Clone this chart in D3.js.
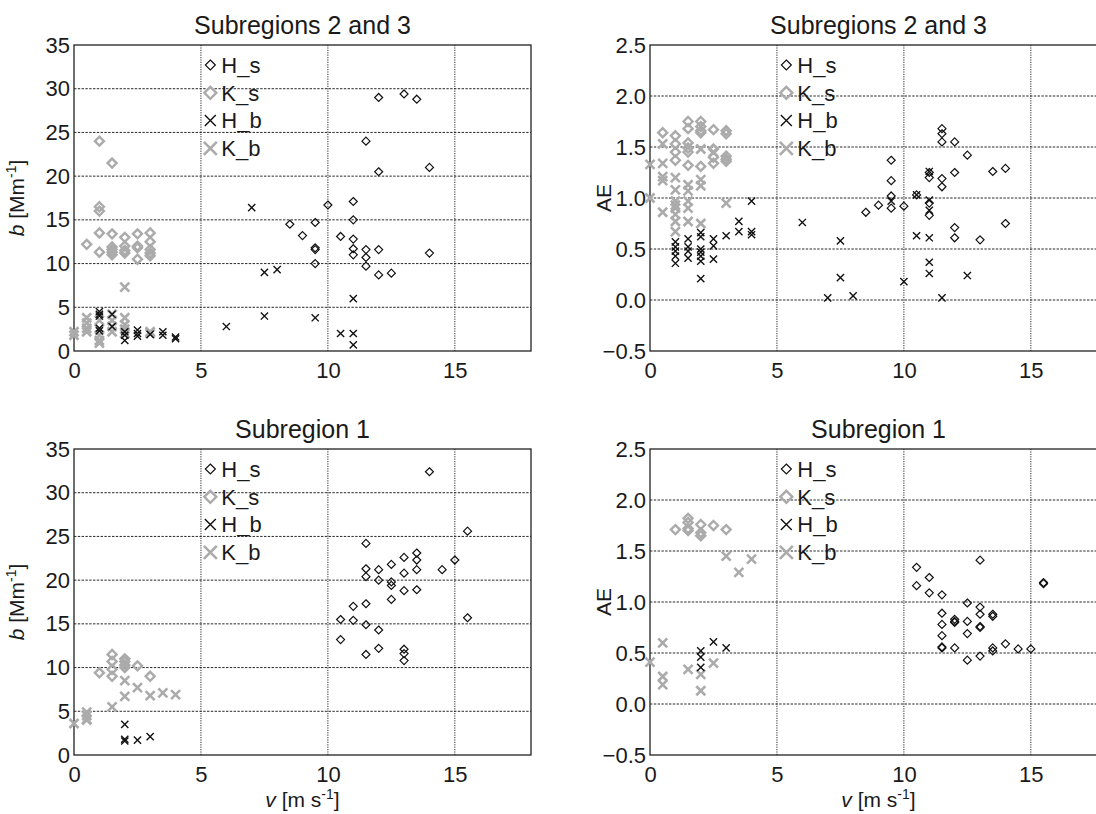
<!DOCTYPE html>
<html>
<head>
<meta charset="utf-8">
<script src="https://cdn.jsdelivr.net/npm/d3@7"></script>
<style>
  body { margin: 0; background: #fff; }
  svg { display: block; font-family: "Liberation Sans", Arial, sans-serif; }
</style>
</head>
<body>
<div id="chart"></div>
<script>
// x values are wind speed v [m s-1]; y values are b [Mm-1] or AE
const xTicks = [0, 5, 10, 15];
const bTicks = [0, 5, 10, 15, 20, 25, 30, 35];
const aeTicks = [-0.5, 0, 0.5, 1, 1.5, 2, 2.5];
const seriesNames = ["H_s", "K_s", "H_b", "K_b"];

// Subregions 2 and 3, scattering coefficient
const sub23bHs = [[8.5,14.5],[9,13.2],[9.5,14.7],[9.5,11.8],[9.5,11.6],[9.5,10.0],[10,16.7],[10.5,13.1],[11,17.1],[11,15.0],[11,12.8],[11,11.7],[11,11.0],[11.5,24.0],[11.5,11.6],[11.5,10.7],[11.5,9.7],[12,29.0],[12,20.5],[12,11.6],[12,8.7],[12.5,8.9],[13,29.4],[13.5,28.8],[14,21.0],[14,11.2]];
const sub23bKs = [[0.5,12.2],[1,24.0],[1,16.5],[1,16.0],[1,13.5],[1,11.3],[1.5,21.5],[1.5,13.4],[1.5,11.9],[1.5,11.6],[1.5,11.3],[1.5,11.0],[2,13.0],[2,12.0],[2,11.5],[2,11.2],[2.5,13.4],[2.5,12.0],[2.5,11.8],[2.5,10.5],[3,13.5],[3,12.5],[3,11.6],[3,11.2],[3,10.9]];
const sub23bHb = [[1,4.5],[1,4.2],[1,4.0],[1,2.6],[1,2.3],[1.5,4.2],[1.5,2.8],[2,2.2],[2,1.8],[2,1.2],[2.5,2.4],[2.5,2.0],[2.5,1.7],[3,1.9],[3.5,2.2],[3.5,1.8],[4,1.6],[4,1.4],[6,2.8],[7,16.4],[7.5,9.0],[7.5,4.0],[8,9.3],[9.5,3.8],[10.5,2.0],[11,6.0],[11,2.0],[11,0.7]];
const sub23bKb = [[0,2.2],[0,1.8],[0.5,3.8],[0.5,3.2],[0.5,2.6],[0.5,2.2],[1,3.5],[1,2.5],[1,1.8],[1,1.2],[1,0.9],[1.5,4.2],[1.5,3.5],[1.5,2.8],[1.5,2.2],[2,7.3],[2,3.8],[2,3.0],[2,2.5],[2,2.0],[3,2.2],[3,2.0]];

// Subregions 2 and 3, Angstrom exponent
const sub23aeHs = [[8.5,0.86],[9,0.93],[9.5,1.37],[9.5,1.17],[9.5,1.02],[9.5,0.90],[10,0.92],[10.5,1.03],[11,1.25],[11,1.20],[11,0.95],[11,0.83],[11.5,1.68],[11.5,1.63],[11.5,1.55],[11.5,1.19],[11.5,1.11],[12,1.55],[12,1.25],[12,0.71],[12,0.61],[12.5,1.42],[13,0.59],[13.5,1.26],[14,1.29],[14,0.75]];
const sub23aeKs = [[0.5,1.64],[1,1.61],[1,1.53],[1,1.45],[1,1.37],[1.5,1.75],[1.5,1.68],[1.5,1.54],[1.5,1.49],[1.5,1.45],[1.5,1.32],[2,1.75],[2,1.70],[2,1.66],[2,1.64],[2,1.31],[2.5,1.67],[2.5,1.48],[2.5,1.40],[2.5,1.34],[3,1.66],[3,1.63],[3,1.41],[3,1.38],[3,1.36]];
const sub23aeHb = [[1,0.57],[1,0.52],[1,0.48],[1,0.43],[1,0.36],[1.5,0.60],[1.5,0.52],[1.5,0.48],[1.5,0.41],[2,0.66],[2,0.62],[2,0.50],[2,0.47],[2,0.43],[2,0.38],[2,0.21],[2.5,0.60],[2.5,0.53],[2.5,0.40],[3,0.63],[3.5,0.77],[3.5,0.67],[4,0.97],[4,0.67],[4,0.64],[6,0.76],[7,0.02],[7.5,0.58],[7.5,0.22],[8,0.04],[9.5,0.97],[10,0.18],[10.5,1.03],[10.5,0.63],[11,1.26],[11,0.98],[11,0.88],[11,0.61],[11,0.37],[11,0.26],[11.5,0.02],[12.5,0.24]];
const sub23aeKb = [[0,1.33],[0,1.0],[0.5,1.53],[0.5,1.34],[0.5,1.21],[0.5,1.17],[0.5,0.86],[1,1.20],[1,1.08],[1,0.97],[1,0.93],[1,0.90],[1,0.84],[1,0.77],[1,0.67],[1.5,1.13],[1.5,1.07],[1.5,0.97],[1.5,0.90],[1.5,0.77],[2,1.48],[2,1.18],[2,1.12],[2,0.75],[2.5,1.45],[3,0.95]];

// Subregion 1, scattering coefficient
const sub1bHs = [[10.5,15.5],[10.5,13.2],[11,17.0],[11,15.4],[11.5,24.2],[11.5,21.3],[11.5,20.4],[11.5,17.3],[11.5,14.9],[11.5,11.5],[12,21.2],[12,20.0],[12,14.3],[12,12.2],[12.5,21.8],[12.5,19.8],[12.5,19.4],[12.5,17.8],[13,22.6],[13,20.8],[13,18.8],[13,12.1],[13,11.6],[13,10.8],[13.5,23.1],[13.5,22.3],[13.5,21.2],[13.5,18.9],[14,32.4],[14.5,21.2],[15,22.3],[15.5,25.6],[15.5,15.7]];
const sub1bKs = [[1,9.4],[1.5,11.5],[1.5,10.7],[1.5,9.8],[1.5,9.0],[2,11.0],[2,10.7],[2,10.3],[2,10.0],[2.5,10.2],[3,9.0]];
const sub1bHb = [[2,3.5],[2,1.8],[2,1.6],[2.5,1.7],[3,2.1]];
const sub1bKb = [[0,3.6],[0.5,4.9],[0.5,4.5],[0.5,4.1],[0.5,4.0],[1.5,5.5],[2,8.5],[2,6.7],[2.5,7.7],[3,6.8],[3.5,7.1],[4,6.9]];

// Subregion 1, Angstrom exponent
const sub1aeHs = [[10.5,1.34],[10.5,1.16],[11,1.24],[11,1.09],[11.5,1.07],[11.5,0.89],[11.5,0.78],[11.5,0.67],[11.5,0.56],[11.5,0.55],[12,0.83],[12,0.81],[12,0.80],[12,0.55],[12.5,0.99],[12.5,0.81],[12.5,0.69],[12.5,0.43],[13,1.41],[13,0.95],[13,0.88],[13,0.76],[13,0.75],[13,0.47],[13.5,0.88],[13.5,0.86],[13.5,0.55],[13.5,0.52],[14,0.59],[14.5,0.54],[15,0.54],[15.5,1.19],[15.5,1.18]];
const sub1aeKs = [[1,1.71],[1.5,1.82],[1.5,1.78],[1.5,1.72],[1.5,1.70],[2,1.76],[2,1.68],[2,1.65],[2.5,1.75],[3,1.71]];
const sub1aeHb = [[2,0.52],[2,0.46],[2,0.36],[2.5,0.61],[3,0.55]];
const sub1aeKb = [[0,0.41],[0.5,0.60],[0.5,0.27],[0.5,0.19],[1.5,0.34],[2,0.29],[2,0.13],[2.5,0.40],[3,1.45],[3.5,1.29],[4,1.42]];

const gray = "#ababab";

// marker styles for the four series (plot size, legend size)
const markerStyle = {
  H_s: { shape: "diamond", color: "#111", width: 1.2, r: 4, lr: 5 },
  K_s: { shape: "diamond", color: gray, width: 2.4, r: 4.5, lr: 6 },
  H_b: { shape: "cross", color: "#111", width: 1.4, r: 3.6, lr: 5.5 },
  K_b: { shape: "cross", color: gray, width: 2.6, r: 4.5, lr: 6.5 },
};

function markerPath(shape, r) {
  if (shape === "diamond") return `M0,${-r}L${r},0L0,${r}L${-r},0Z`;
  return `M${-r},${-r}L${r},${r}M${-r},${r}L${r},${-r}`;
}

const panels = [
  { title: "Subregions 2 and 3", left: 74, top: 45, yDomain: [0, 35], yTicks: bTicks, yFmt: d3.format("d"), yLabel: "b", xLabel: false,
    series: { H_s: sub23bHs, K_s: sub23bKs, H_b: sub23bHb, K_b: sub23bKb } },
  { title: "Subregions 2 and 3", left: 650, top: 45, yDomain: [-0.5, 2.5], yTicks: aeTicks, yFmt: d3.format(".1f"), yLabel: "AE", xLabel: false,
    series: { H_s: sub23aeHs, K_s: sub23aeKs, H_b: sub23aeHb, K_b: sub23aeKb } },
  { title: "Subregion 1", left: 74, top: 449, yDomain: [0, 35], yTicks: bTicks, yFmt: d3.format("d"), yLabel: "b", xLabel: true,
    series: { H_s: sub1bHs, K_s: sub1bKs, H_b: sub1bHb, K_b: sub1bKb } },
  { title: "Subregion 1", left: 650, top: 449, yDomain: [-0.5, 2.5], yTicks: aeTicks, yFmt: d3.format(".1f"), yLabel: "AE", xLabel: true,
    series: { H_s: sub1aeHs, K_s: sub1aeKs, H_b: sub1aeHb, K_b: sub1aeKb } },
];

const plotW = 457;
const plotH = 306;

const svg = d3.select("#chart").append("svg").attr("width", 1096).attr("height", 814);
svg.append("rect").attr("width", 1096).attr("height", 814).attr("fill", "#fff");

panels.forEach((p) => drawPanel(p));

function drawPanel(p) {
  const g = svg.append("g").attr("transform", `translate(${p.left},${p.top})`);
  const x = d3.scaleLinear().domain([0, 18]).range([0, plotW]);
  const y = d3.scaleLinear().domain(p.yDomain).range([plotH, 0]);

  // dotted grid
  g.append("g").selectAll("line").data(xTicks.filter((t) => t > 0)).join("line")
    .attr("x1", (d) => x(d)).attr("x2", (d) => x(d)).attr("y1", 0).attr("y2", plotH)
    .attr("stroke", "#111").attr("stroke-width", 0.9).attr("stroke-dasharray", "1.2,1.2");
  g.append("g").selectAll("line").data(p.yTicks.slice(1, -1)).join("line")
    .attr("x1", 0).attr("x2", plotW).attr("y1", (d) => y(d)).attr("y2", (d) => y(d))
    .attr("stroke", "#111").attr("stroke-width", 0.9).attr("stroke-dasharray", "2.4,1.4");

  // axes with labels only, box drawn separately
  g.append("g").attr("transform", `translate(0,${plotH})`)
    .call(d3.axisBottom(x).tickValues(xTicks).tickSize(0).tickPadding(11))
    .call((a) => a.select(".domain").remove())
    .selectAll("text").attr("font-size", 22).attr("fill", "#1a1a1a").attr("font-family", "Liberation Sans, Arial, sans-serif");
  g.append("g")
    .call(d3.axisLeft(y).tickValues(p.yTicks).tickFormat(p.yFmt).tickSize(0).tickPadding(4))
    .call((a) => a.select(".domain").remove())
    .selectAll("text").attr("font-size", 22).attr("fill", "#1a1a1a").attr("font-family", "Liberation Sans, Arial, sans-serif");

  g.append("rect").attr("width", plotW).attr("height", plotH)
    .attr("fill", "none").attr("stroke", "#222").attr("stroke-width", 1.3);

  // points: gray series first, black on top
  ["K_s", "K_b", "H_s", "H_b"].forEach((name) => {
    const st = markerStyle[name];
    g.append("g").selectAll("path").data(p.series[name]).join("path")
      .attr("transform", (d) => `translate(${x(d[0])},${y(d[1])})`)
      .attr("d", markerPath(st.shape, st.r))
      .attr("fill", "none").attr("stroke", st.color).attr("stroke-width", st.width);
  });

  // legend without box
  const leg = g.append("g").attr("transform", `translate(${x(5.37)},20)`);
  seriesNames.forEach((name, i) => {
    const st = markerStyle[name];
    const row = leg.append("g").attr("transform", `translate(0,${i * 27.8})`);
    row.append("path").attr("d", markerPath(st.shape, st.lr))
      .attr("fill", "none").attr("stroke", st.color).attr("stroke-width", st.width);
    row.append("text").attr("x", 11).attr("dy", "0.35em")
      .attr("font-size", 22).attr("fill", "#1a1a1a").text(name);
  });

  // title
  g.append("text").attr("x", plotW / 2).attr("y", -11).attr("text-anchor", "middle")
    .attr("font-size", 25).attr("fill", "#1a1a1a").text(p.title);

  // y label
  const yl = g.append("text").attr("transform", `translate(${p.yLabel === "b" ? -50 : -39},${plotH / 2}) rotate(-90)`)
    .attr("text-anchor", "middle").attr("font-size", 21).attr("fill", "#1a1a1a");
  if (p.yLabel === "b") {
    yl.append("tspan").attr("font-style", "italic").text("b");
    yl.append("tspan").text(" [Mm");
    yl.append("tspan").attr("font-size", 14).attr("dy", -8).text("-1");
    yl.append("tspan").attr("dy", 8).text("]");
  } else {
    yl.text("AE");
  }

  // x label on bottom row only
  if (p.xLabel) {
    const xl = g.append("text").attr("x", plotW / 2).attr("y", plotH + 52).attr("text-anchor", "middle")
      .attr("font-size", 21).attr("fill", "#1a1a1a");
    xl.append("tspan").attr("font-style", "italic").text("v");
    xl.append("tspan").text(" [m s");
    xl.append("tspan").attr("font-size", 14).attr("dy", -8).text("-1");
    xl.append("tspan").attr("dy", 8).text("]");
  }
}
</script>
</body>
</html>
